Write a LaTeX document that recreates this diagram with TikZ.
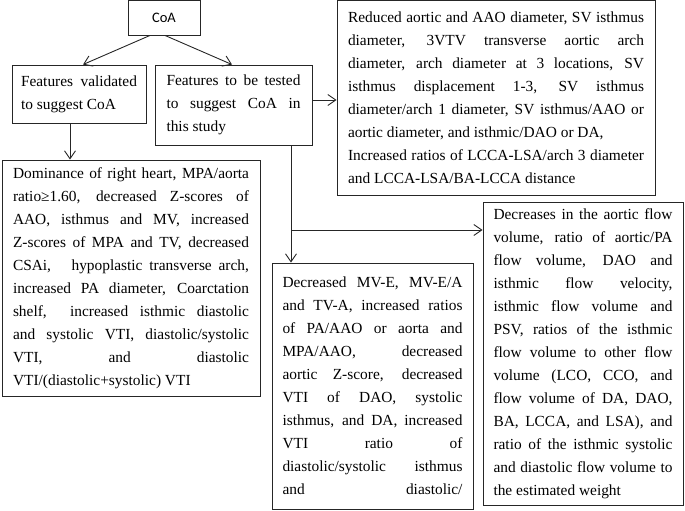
\documentclass[tikz,border=0pt]{standalone}
\usepackage{fontspec}
\setmainfont{Liberation Serif}
\newfontfamily\coafont{Carlito}
\usetikzlibrary{arrows.meta,calc}
\newcommand\mytxt{\fontsize{15.4}{23}\selectfont\tolerance=10000\hyphenpenalty=10000\exhyphenpenalty=10000\emergencystretch=2em\hbadness=10000}
\begin{document}
\begin{tikzpicture}[x=1pt,y=-1pt,
  box/.style={draw=black!85, line width=0.9pt, inner sep=0pt, align=justify, font=\mytxt},
  arr/.style={draw=black!85, line width=0.9pt, -{Straight Barb[length=8pt,width=11pt,line width=0.9pt]}}]
\useasboundingbox (0,0) rectangle (685,511);

\node[box, align=center, minimum width=72pt, minimum height=34.4pt, font=\coafont\fontsize{14.5}{17}\selectfont] (coa) at (164,17.8) {CoA};

\node[box, text width=116pt, minimum width=134pt, minimum height=58pt] (val) at (79,94)
  {Features validated\linebreak to suggest CoA};

\node[box, text width=134pt, minimum width=157pt, minimum height=80pt] (tst) at (233.5,105)
  {Features to be tested\linebreak to suggest CoA in\linebreak this study};

\node[box, text width=296pt, minimum width=318pt, minimum height=194.4pt] (tr) at (496,97.8)
  {Reduced aortic and AAO diameter, SV isthmus\linebreak diameter, 3VTV transverse aortic arch\linebreak diameter, arch diameter at 3 locations, SV\linebreak isthmus displacement 1-3, SV isthmus\linebreak diameter/arch 1 diameter, SV isthmus/AAO or\linebreak aortic diameter, and isthmic/DAO or DA,\\ Increased ratios of LCCA-LSA/arch 3 diameter\linebreak and LCCA-LSA/BA-LCCA distance};

\node[box, text width=236pt, minimum width=258pt, minimum height=236pt] (lb) at (131,278)
  {Dominance of right heart, MPA/aorta\linebreak ratio≥1.60, decreased Z-scores of\linebreak AAO, isthmus and MV, increased\linebreak Z-scores of MPA and TV, decreased\linebreak CSAi,\ \ \ hypoplastic transverse arch,\linebreak increased PA diameter, Coarctation\linebreak shelf,\ \ increased isthmic diastolic\linebreak and systolic VTI, diastolic/systolic\linebreak VTI, and diastolic\linebreak VTI/(diastolic+systolic) VTI};

\node[box, text width=180pt, minimum width=201pt, minimum height=246pt] (mid) at (372.5,386)
  {Decreased MV-E, MV-E/A\linebreak and TV-A, increased ratios\linebreak of PA/AAO or aorta and\linebreak MPA/AAO, decreased\linebreak aortic Z-score, decreased\linebreak VTI of DAO, systolic\linebreak isthmus, and DA, increased\linebreak VTI ratio of\linebreak diastolic/systolic isthmus\linebreak and\hfill diastolic/};

\node[box, text width=179pt, minimum width=200pt, minimum height=303pt] (rb) at (583,353.5)
  {Decreases in the aortic flow\linebreak volume, ratio of aortic/PA\linebreak flow volume, DAO and\linebreak isthmic flow velocity,\linebreak isthmic flow volume and\linebreak PSV, ratios of the isthmic\linebreak flow volume to other flow\linebreak volume (LCO, CCO, and\linebreak flow volume of DA, DAO,\linebreak BA, LCCA, and LSA), and\linebreak ratio of the isthmic systolic\linebreak and diastolic flow volume to\linebreak the estimated weight};

\draw[arr] ([xshift=-14pt]coa.south) -- ([xshift=4pt]val.north);
\draw[arr] ([xshift=1pt]coa.south) -- ([xshift=-1.5pt]tst.north);
\coordinate (a1) at ([yshift=5pt]tst.east);
\draw[arr] (a1) -- (a1 -| tr.west);
\coordinate (a2) at ([xshift=-9pt]val.south);
\draw[arr] (a2) -- (a2 |- lb.north);
\coordinate (j) at (291,230);
\draw[arr] (j |- tst.south) -- (j |- mid.north);
\draw[arr] (j) -- (j -| rb.west);
\end{tikzpicture}
\end{document}
